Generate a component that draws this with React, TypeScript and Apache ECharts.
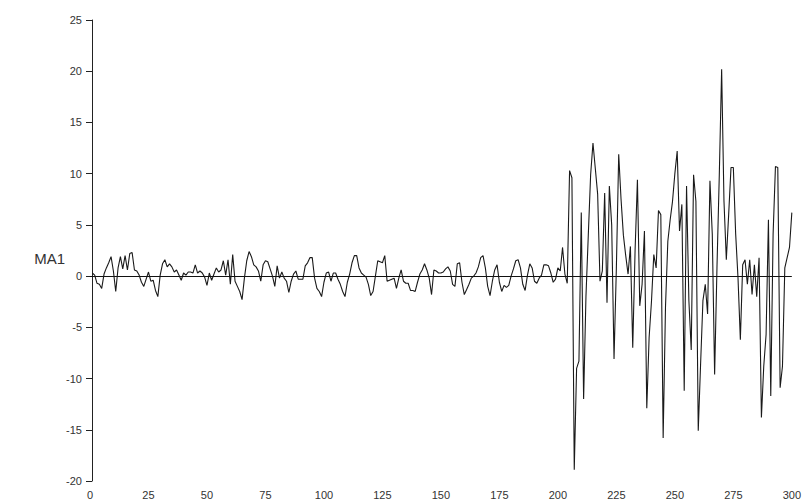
import { useEffect, useRef } from "react";
import * as echarts from "echarts";

// Axis ranges and tick steps
const xRange = [0, 300];
const xStep = 25;
const yRange = [-20, 25];
const yStep = 5;
const yAxisTitle = "MA1";

// MA1 estimates, periods 1..200 (stable regime)
const calmValues = [
  0.3, 0.1, -0.7, -0.8, -1.2, 0.2, 0.8, 1.3, 1.9, 0.5,
  -1.5, 0.8, 1.9, 0.7, 2.0, 0.6, 2.2, 2.3, 0.6, 0.5,
  0.1, -0.6, -1.0, -0.3, 0.4, -0.5, -0.4, -1.4, -2.0, 0.1,
  1.2, 1.6, 0.9, 1.2, 0.9, 0.4, 0.6, 0.1, -0.4, 0.3,
  0.1, 0.4, 0.4, 0.3, 1.1, 0.3, 0.5, 0.3, -0.1, -0.9,
  0.3, -0.4, 0.2, 0.8, 0.4, 0.6, 1.5, 0.1, 1.6, -0.8,
  2.1, -0.5, -1.0, -1.5, -2.3, -0.2, 1.5, 2.4, 1.9, 1.1,
  0.9, 0.5, -0.5, 1.1, 1.5, 1.4, 0.7, 0.0, -1.0, 1.0,
  -0.2, 0.4, -0.2, -0.5, -1.6, -0.5, 0.2, 0.5, -0.3, -0.3,
  -0.3, 1.0, 1.3, 1.8, 1.8, -0.2, -1.2, -1.5, -2.0, -0.6,
  0.3, 0.4, -0.5, 0.3, 0.3, -0.3, -0.8, -1.5, -2.0, -0.6,
  0.2, 1.3, 2.0, 2.0, 0.8, 0.3, 0.1, -0.1, -0.8, -1.9,
  -1.5, 0.0, 1.5, 1.4, 1.3, 2.0, -0.5, -0.4, -0.3, -0.2,
  -1.2, -0.2, 0.6, -0.5, -0.7, -0.7, -1.4, -1.4, -1.5, -0.6,
  0.2, 0.6, 1.2, 0.6, -0.2, -1.8, 0.6, 0.5, 0.3, 0.3,
  0.4, 0.7, 0.9, 0.5, -0.8, -1.0, 1.2, 1.3, -0.6, -1.8,
  -1.3, -0.8, -0.2, 0.0, 0.3, 0.9, 1.8, 2.0, 0.8, -1.0,
  -1.9, -0.5, 0.6, 1.1, -0.6, -1.5, -0.9, -1.1, -0.9, 0.0,
  0.7, 1.5, 1.6, 0.8, -0.8, -1.4, 0.1, 1.2, 0.8, -0.5,
  -0.7, -0.2, 0.1, 1.1, 1.1, 1.0, 0.3, -0.6, -0.3, 0.8,
];

// MA1 estimates, periods 201..300 (volatile regime)
const volatileValues = [
  0.5, 2.8, 0.2, -0.7, 10.3, 9.6, -18.9, -9.0, -8.3, 6.2,
  -12.0, -2.0, 4.0, 9.9, 13.0, 10.5, 8.0, -0.5, 0.5, 8.1,
  -2.6, 8.8, 5.0, -8.1, 0.8, 11.9, 7.5, 4.0, 2.0, 0.2,
  2.9, -7.0, 2.5, 9.4, -2.9, -0.8, 4.4, -12.9, -6.0, -2.5,
  2.1, 0.8, 6.4, 6.0, -15.8, -3.0, 3.4, 5.5, 7.3, 10.0,
  12.2, 4.4, 7.0, -11.2, 8.8, -2.4, -7.2, 9.9, 7.3, -15.1,
  -8.6, -2.4, -0.8, -3.7, 9.3, 4.1, -9.6, 0.8, 9.9, 20.2,
  7.3, 1.6, 6.0, 10.6, 10.6, 4.1, -0.2, -6.2, 1.1, 1.6,
  -0.8, 1.6, -1.8, 1.1, -2.0, 1.8, -13.8, -8.8, -5.7, 5.5,
  -11.7, 4.1, 10.7, 10.6, -10.9, -8.8, 0.8, 1.8, 2.8, 6.2,
];

const FONT = '"Liberation Sans", Arial, Helvetica, sans-serif';

export default function App() {
  const ref = useRef<HTMLDivElement>(null);

  useEffect(() => {
    if (!ref.current) return;
    const chart = echarts.init(ref.current, undefined, { renderer: "svg" });

    const allValues = [...calmValues, ...volatileValues];
    const points = allValues.map((v, i) => [i + 1, v]);

    chart.setOption({
      animation: false,
      backgroundColor: "#ffffff",
      grid: { left: 90, right: 10, top: 20, bottom: 22 },
      xAxis: {
        type: "value",
        min: xRange[0],
        max: xRange[1],
        interval: xStep,
        axisLine: { show: false },
        axisTick: { show: false },
        splitLine: { show: false },
        axisLabel: { color: "#333", fontSize: 11, fontFamily: FONT, margin: 8 },
      },
      yAxis: {
        type: "value",
        min: yRange[0],
        max: yRange[1],
        interval: yStep,
        offset: -2,
        axisLine: { show: true, onZero: false, lineStyle: { color: "#222", width: 1 } },
        axisTick: { show: true, length: 6, lineStyle: { color: "#222", width: 1 } },
        splitLine: { show: false },
        axisLabel: { color: "#333", fontSize: 11, fontFamily: FONT, margin: 10 },
      },
      graphic: [
        {
          type: "text",
          x: 65,
          y: 258,
          style: {
            text: yAxisTitle,
            align: "right",
            verticalAlign: "middle",
            fontSize: 15,
            fontFamily: FONT,
            fill: "#333",
          },
        },
      ],
      series: [
        {
          type: "line",
          data: points,
          symbol: "none",
          lineStyle: { color: "#1a1a1a", width: 1.1 },
          markLine: {
            silent: true,
            symbol: "none",
            label: { show: false },
            lineStyle: { color: "#111", width: 1, type: "solid" },
            data: [{ yAxis: 0 }],
          },
        },
      ],
    });

    return () => chart.dispose();
  }, []);

  return (
    <div
      ref={ref}
      style={{ position: "absolute", left: 0, top: 0, width: 804, height: 503 }}
    />
  );
}
